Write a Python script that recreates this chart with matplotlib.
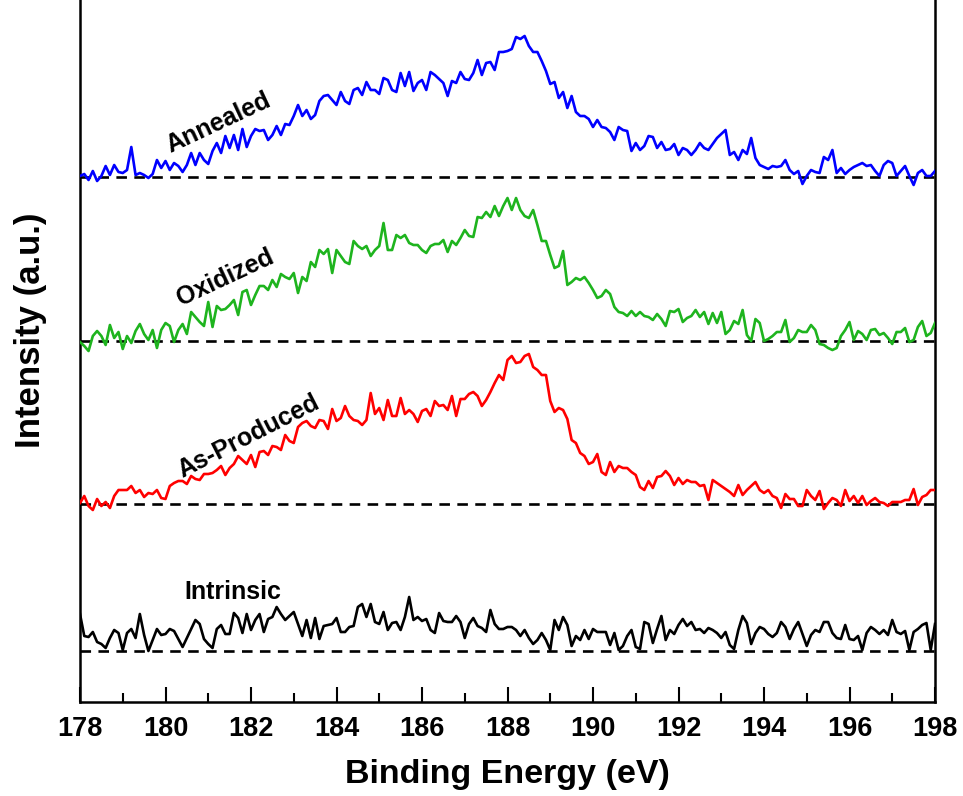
import numpy as np
import matplotlib
matplotlib.use("Agg")
from matplotlib import pyplot as plt

plt.rcParams['font.family'] = ['Liberation Sans', 'DejaVu Sans']
plt.rcParams['font.weight'] = 'bold'

# Binding energy grid (eV), 0.1 eV steps
energy = np.linspace(178, 198, 201)

# Intensities above each baseline (arbitrary units)
annealed = [
    1, 3, -3, 6, -4, 1, 11, 2, 12, 5,
    4, 7, 30, 2, 4, 2, -1, 3, 17, 9,
    16, 7, 14, 11, 5, 12, 24, 12, 24, 17,
    13, 26, 34, 24, 41, 29, 42, 27, 48, 30,
    41, 48, 46, 47, 37, 42, 51, 42, 53, 52,
    61, 72, 61, 67, 58, 62, 76, 81, 82, 77,
    72, 85, 76, 73, 87, 89, 82, 95, 87, 87,
    83, 99, 97, 87, 85, 104, 91, 105, 86, 94,
    97, 87, 105, 102, 98, 94, 81, 96, 94, 105,
    98, 97, 104, 117, 102, 114, 115, 107, 125, 125,
    126, 128, 140, 138, 141, 131, 125, 125, 116, 106,
    93, 95, 79, 85, 69, 81, 65, 61, 61, 58,
    50, 57, 50, 49, 45, 37, 50, 47, 46, 26,
    34, 27, 31, 41, 40, 29, 35, 27, 28, 33,
    22, 29, 27, 22, 27, 34, 29, 27, 33, 39,
    43, 47, 22, 25, 17, 27, 23, 39, 19, 12,
    10, 8, 11, 10, 11, 17, 7, 3, 6, -7,
    1, 7, 5, 4, 20, 17, 27, 4, 9, 3,
    7, 10, 12, 14, 11, 12, 6, 1, 12, 16,
    14, 1, 6, 11, 1, -8, 4, 7, 1, 1,
    6]

oxidized = [
    -1, -5, -10, 5, 10, 5, -4, 16, 3, 9,
    -8, 5, -2, 10, 17, 7, 1, 11, -7, 11,
    18, 15, -1, 11, 17, 7, 29, 24, 19, 15,
    39, 14, 35, 31, 32, 36, 41, 26, 49, 51,
    36, 46, 55, 55, 51, 61, 54, 67, 64, 62,
    68, 48, 64, 60, 79, 74, 91, 87, 92, 68,
    91, 85, 79, 77, 100, 95, 92, 95, 85, 91,
    95, 118, 91, 91, 106, 103, 106, 98, 96, 96,
    91, 88, 95, 97, 97, 101, 89, 100, 96, 103,
    111, 105, 104, 124, 123, 129, 124, 135, 125, 135,
    143, 131, 143, 131, 125, 123, 131, 116, 100, 100,
    86, 73, 75, 90, 56, 59, 63, 61, 64, 58,
    51, 43, 45, 51, 47, 34, 29, 28, 25, 30,
    25, 29, 25, 24, 21, 27, 22, 15, 30, 29,
    32, 19, 23, 25, 31, 24, 29, 17, 28, 18,
    29, 7, 11, 20, 17, 31, 6, 0, 22, 18,
    0, 2, 5, 9, 9, 21, -1, 3, 11, 9,
    9, 16, 11, -3, -4, -7, -9, -7, 5, 11,
    19, 1, 10, 7, 1, 11, 12, 6, 8, 3,
    -3, 9, 9, 13, -1, 1, 14, 20, 5, 8,
    18]

as_produced = [
    1, 8, -2, -6, 5, -2, 2, -4, 8, 14,
    14, 14, 18, 11, 14, 7, 11, 10, 14, 6,
    5, 18, 21, 23, 23, 20, 28, 25, 24, 30,
    30, 31, 34, 38, 29, 36, 40, 48, 44, 40,
    49, 37, 52, 53, 49, 58, 57, 54, 69, 63,
    61, 77, 81, 83, 78, 76, 84, 83, 75, 95,
    83, 86, 98, 88, 84, 83, 79, 84, 111, 90,
    96, 84, 104, 88, 88, 106, 90, 94, 90, 82,
    93, 95, 88, 103, 98, 99, 94, 108, 88, 105,
    105, 110, 112, 108, 98, 104, 112, 121, 129, 124,
    144, 148, 141, 142, 148, 150, 137, 134, 129, 129,
    103, 92, 96, 94, 85, 64, 61, 51, 48, 40,
    42, 50, 32, 29, 42, 32, 38, 36, 36, 32,
    29, 17, 14, 23, 16, 27, 28, 33, 28, 19,
    26, 20, 24, 22, 22, 18, 19, 4, 24, 21,
    18, 15, 12, 8, 19, 9, 14, 18, 22, 14,
    11, 14, 8, 6, -4, 10, 5, 5, -2, -2,
    14, 8, 4, 13, -5, 1, 6, 4, -2, 14,
    3, 8, 1, 8, -1, 3, 6, 2, 1, -2,
    2, 2, 2, 4, 4, 15, -1, 7, 9, 14,
    14]

intrinsic = [
    37, 15, 14, 19, 9, 7, 3, 13, 21, 18,
    1, 18, 22, 13, 37, 16, 0, 11, 22, 16,
    17, 22, 20, 12, 4, 13, 22, 31, 27, 12,
    7, 3, 22, 26, 17, 17, 38, 33, 18, 37,
    21, 31, 37, 19, 32, 34, 44, 37, 31, 35,
    39, 27, 15, 31, 13, 33, 12, 25, 26, 27,
    33, 19, 19, 24, 25, 44, 47, 34, 47, 29,
    27, 39, 21, 28, 29, 21, 34, 54, 31, 34,
    30, 32, 21, 18, 38, 30, 29, 29, 35, 29,
    13, 27, 33, 25, 23, 19, 41, 27, 22, 22,
    24, 24, 21, 15, 21, 13, 7, 11, 18, 11,
    1, 31, 21, 34, 26, 5, 15, 11, 21, 12,
    22, 19, 19, 19, 6, 18, 1, 5, 15, 21,
    4, 2, 29, 27, 8, 22, 35, 11, 21, 17,
    26, 32, 25, 29, 21, 22, 18, 23, 21, 18,
    13, 19, 6, 2, 21, 35, 28, 7, 18, 24,
    22, 17, 14, 18, 29, 24, 12, 22, 29, 17,
    5, 16, 21, 19, 29, 29, 18, 13, 12, 26,
    12, 11, 15, 1, 18, 24, 21, 17, 21, 16,
    31, 19, 17, 20, 1, 19, 22, 26, 28, 1,
    27]

labels = ["Annealed", "Oxidized", "As-Produced", "Intrinsic"]
offsets = [525, 361, 198, 51]
colors = ["#0000ff", "#1eb41e", "#ff0000", "#000000"]
spectra = [annealed, oxidized, as_produced, intrinsic]

# label placement (energy, height, angle)
label_pos = [(181.25, 579, 25), (181.39, 424, 25), (181.95, 266, 27), (181.58, 110, 0)]

fig = plt.figure(figsize=(9.63, 7.96), dpi=100)
ax = fig.add_axes([80 / 963, 94 / 796, 855 / 963, 702 / 796])

for spec, off, col in zip(spectra, offsets, colors):
    ax.plot(energy, np.asarray(spec) + off, color=col, lw=1.9, zorder=3)
    ax.plot([178, 198], [off, off], color="black", lw=1.9,
            linestyle=(0, (4, 2.8)), zorder=2)

for lab, (x, y, ang) in zip(labels, label_pos):
    ax.text(x, y, lab, fontsize=18, fontweight="bold", rotation=ang,
            rotation_mode="anchor", ha="center", va="center")

ax.set_xlim(178, 198)
ax.set_ylim(0, 702)
ax.set_xticks(np.arange(178, 199, 2))
ax.set_xticks(np.arange(179, 198, 2), minor=True)
ax.set_yticks([])
ax.tick_params(axis="x", which="major", direction="in", length=10.8, width=1.5,
               labelsize=19.5, pad=10)
ax.tick_params(axis="x", which="minor", direction="in", length=6.5, width=1.5)
for lbl in ax.get_xticklabels():
    lbl.set_fontweight("bold")

ax.spines["top"].set_visible(False)
for s in ["left", "right", "bottom"]:
    ax.spines[s].set_linewidth(1.8)

ax.set_xlabel("Binding Energy (eV)", fontsize=24.5, fontweight="bold", labelpad=12)
ax.set_ylabel("Intensity (a.u.)", fontsize=25, fontweight="bold")
ax.yaxis.set_label_coords(-33 / 855, 0.530)

fig.savefig("out.png", dpi=100)
